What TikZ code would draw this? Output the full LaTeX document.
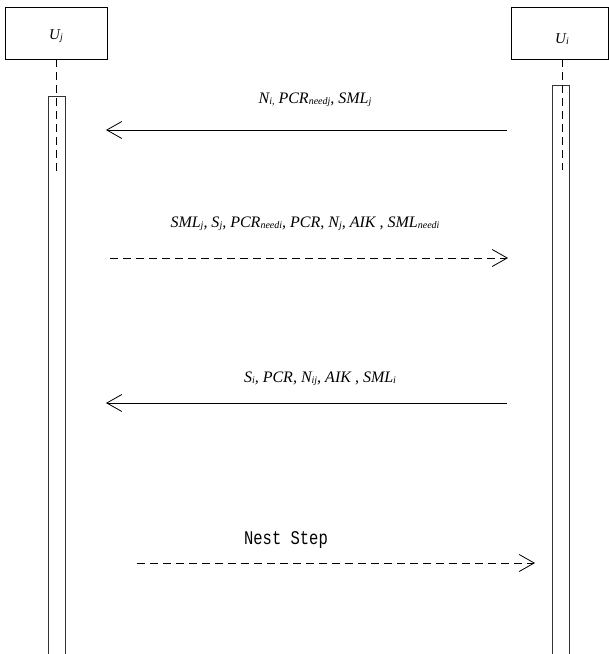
\documentclass[tikz,border=0pt]{standalone}
\usepackage{fontspec}
\setmainfont{Liberation Serif}
\newfontfamily\monofont{Liberation Mono}
\usetikzlibrary{arrows.meta}
\newcommand\subx[1]{\raisebox{-1.5pt}{\fontsize{10}{10}\selectfont #1}}
\begin{document}
\begin{tikzpicture}[x=1pt,y=-1pt,
  actor/.style={draw,line width=0.8pt,minimum width=102pt,minimum height=52pt,inner sep=0pt,font=\fontsize{15}{15}\selectfont\itshape},
  life/.style={draw,line width=0.8pt,dash pattern=on 8pt off 5pt},
  bar/.style={draw=black!80,line width=0.9pt},
  msg/.style={line width=0.8pt,-{Straight Barb[length=15pt,width=17pt,line width=0.8pt]}},
  reply/.style={msg,dash pattern=on 8pt off 5pt},
  lbl/.style={font=\fontsize{16}{18}\selectfont\itshape,inner sep=0pt}]
\useasboundingbox (0,0) rectangle (609,654);
\node[actor] (uj) at (56,33) {};
\node[font=\fontsize{15}{15}\selectfont\itshape,inner sep=0pt] (ujt) at (56,36) {U\subx{j}};
\node[actor,minimum width=97pt] (ui) at (560,33) {};
\node[font=\fontsize{15}{15}\selectfont\itshape,inner sep=0pt] (uit) at (562,39) {U\subx{i}};
% activation bars
\draw[bar] (48,660) -- (48,96) -- (65,96) -- (65,660);
\draw[bar] (552,660) -- (552,85) -- (569,85) -- (569,660);
% lifelines
\coordinate (ujend) at (56,172);
\coordinate (uiend) at (562,170);
\draw[life] (uj.south) -- (ujend);
\draw[life] (ui.south -| uiend) -- (uiend);
% messages
\coordinate (m1s) at (507,130); \coordinate (m1e) at (106,130);
\coordinate (m2s) at (110,258); \coordinate (m2e) at (508,258);
\coordinate (m3s) at (507,403); \coordinate (m3e) at (106,403);
\coordinate (m4s) at (137,563); \coordinate (m4e) at (535,563);
\draw[msg] (m1s) -- (m1e);
\draw[reply] (m2s) -- (m2e);
\draw[msg] (m3s) -- (m3e);
\draw[reply] (m4s) -- (m4e);
\node[lbl] (l1) at (315,100) {N\subx{i,} PCR\subx{needj}, SML\subx{j}};
\node[lbl] (l2) at (305,224) {SML\subx{j}, S\subx{j}, PCR\subx{needi}, PCR, N\subx{j}, AIK , SML\subx{needi}};
\node[lbl] (l3) at (320,379) {S\subx{i}, PCR, N\subx{ij}, AIK , SML\subx{i}};
\node[inner sep=0pt,font=\monofont\fontsize{15.5}{15}\selectfont,yscale=1.25,transform shape] (l4) at (286,540) {Nest Step};
\end{tikzpicture}
\end{document}
